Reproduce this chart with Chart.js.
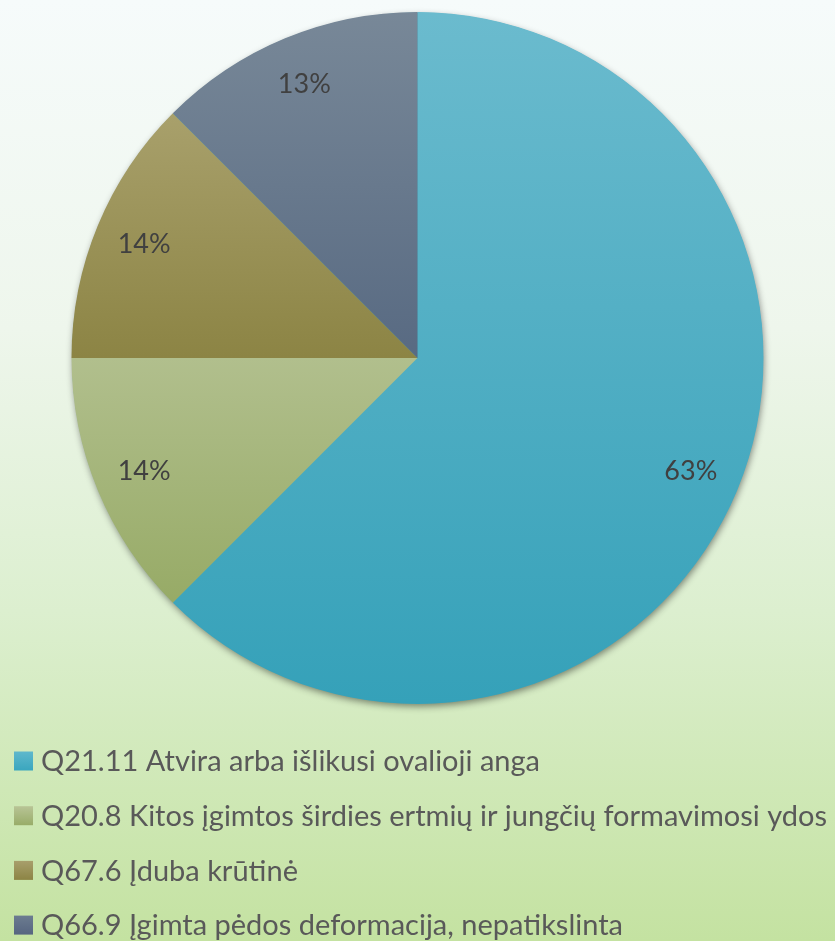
<!DOCTYPE html>
<html>
<head>
<meta charset="utf-8">
<script src="https://cdn.jsdelivr.net/npm/chart.js"></script>
<style>
    html, body { margin: 0; padding: 0; }
    body {
        width: 835px;
        height: 941px;
        overflow: hidden;
        background: linear-gradient(to bottom, #f6fbfb 0%, #eef6ec 35%, #dcefcf 65%, #c4e2a1 100%);
    }
    #wrap { position: relative; width: 835px; height: 941px; }
</style>
</head>
<body>
<div id="wrap"><canvas id="chart" width="835" height="941"></canvas></div>
<script>
// ── data ────────────────────────────────────────────────────────────────────
const categories = [
    'Q21.11 Atvira arba išlikusi ovalioji anga',
    'Q20.8 Kitos įgimtos širdies ertmių ir jungčių formavimosi ydos',
    'Q67.6 Įduba krūtinė',
    'Q66.9 Įgimta pėdos deformacija, nepatikslinta'
];
const shares = [62.5, 12.5, 12.5, 12.5];
const pctLabels = ['63%', '14%', '14%', '13%'];

// top / bottom colour of each slice's vertical gradient (over the pie's box)
const topColors = ['#6bbbce', '#d6dcc4', '#b4ac7c', '#788898'];
const bottomColors = ['#35a1b9', '#8ca256', '#645c0c', '#384c6c'];
// legend swatches
const swatchTop = ['#5fb8cc', '#b8c496', '#a89f6c', '#6c7c90'];
const swatchBottom = ['#3aa6be', '#98ac68', '#8c8444', '#566580'];

const FONT = 'Lato, "Open Sans", sans-serif';

// vertical gradient over the pie's bounding box
function sliceFill(ctx) {
    const i = ctx.dataIndex;
    const area = ctx.chart.chartArea;
    if (!area) return topColors[i];
    const g = ctx.chart.ctx.createLinearGradient(0, area.top, 0, area.bottom);
    g.addColorStop(0, topColors[i]);
    g.addColorStop(1, bottomColors[i]);
    return g;
}

// soft shadow under the whole pie
const pieShadow = {
    id: 'pieShadow',
    beforeDatasetsDraw(chart) {
        const arc = chart.getDatasetMeta(0).data[0];
        if (!arc) return;
        const c = chart.ctx;
        c.save();
        c.shadowColor = 'rgba(0,0,0,0.45)';
        c.shadowBlur = 7;
        c.shadowOffsetX = 1;
        c.shadowOffsetY = 3;
        c.beginPath();
        c.arc(arc.x, arc.y, arc.outerRadius - 0.5, 0, Math.PI * 2);
        c.fillStyle = '#3da9c1';
        c.fill();
        c.restore();
    }
};

// percentage labels inside slices
const sliceLabels = {
    id: 'sliceLabels',
    afterDatasetsDraw(chart) {
        const c = chart.ctx;
        c.save();
        c.font = '27px ' + FONT;
        c.fillStyle = '#404040';
        c.textAlign = 'center';
        c.textBaseline = 'middle';
        chart.getDatasetMeta(0).data.forEach((arc, i) => {
            const mid = (arc.startAngle + arc.endAngle) / 2;
            const r = arc.outerRadius * 0.855;
            c.fillText(pctLabels[i], arc.x + Math.cos(mid) * r, arc.y + Math.sin(mid) * r);
        });
        c.restore();
    }
};

// legend: one entry per row under the pie
const rowLegend = {
    id: 'rowLegend',
    afterDraw(chart) {
        const c = chart.ctx;
        const rowY = 761, rowGap = 54.7;
        c.save();
        c.font = '29px ' + FONT;
        c.textBaseline = 'middle';
        c.textAlign = 'left';
        categories.forEach((label, i) => {
            const y = rowY + i * rowGap;
            const g = c.createLinearGradient(0, y - 9.5, 0, y + 9.5);
            g.addColorStop(0, swatchTop[i]);
            g.addColorStop(1, swatchBottom[i]);
            c.fillStyle = g;
            c.fillRect(14, y - 9.5, 19, 19);
            c.fillStyle = '#595959';
            c.fillText(label, 41, y + 1);
        });
        c.restore();
    }
};

new Chart(document.getElementById('chart'), {
    type: 'pie',
    data: {
        labels: categories,
        datasets: [{
            data: shares,
            backgroundColor: sliceFill,
            borderWidth: 0
        }]
    },
    options: {
        responsive: false,
        animation: false,
        events: [],
        layout: { padding: { top: 12, bottom: 237, left: 71, right: 71 } },
        plugins: {
            legend: { display: false },
            tooltip: { enabled: false }
        }
    },
    plugins: [pieShadow, sliceLabels, rowLegend]
});
</script>
</body>
</html>
